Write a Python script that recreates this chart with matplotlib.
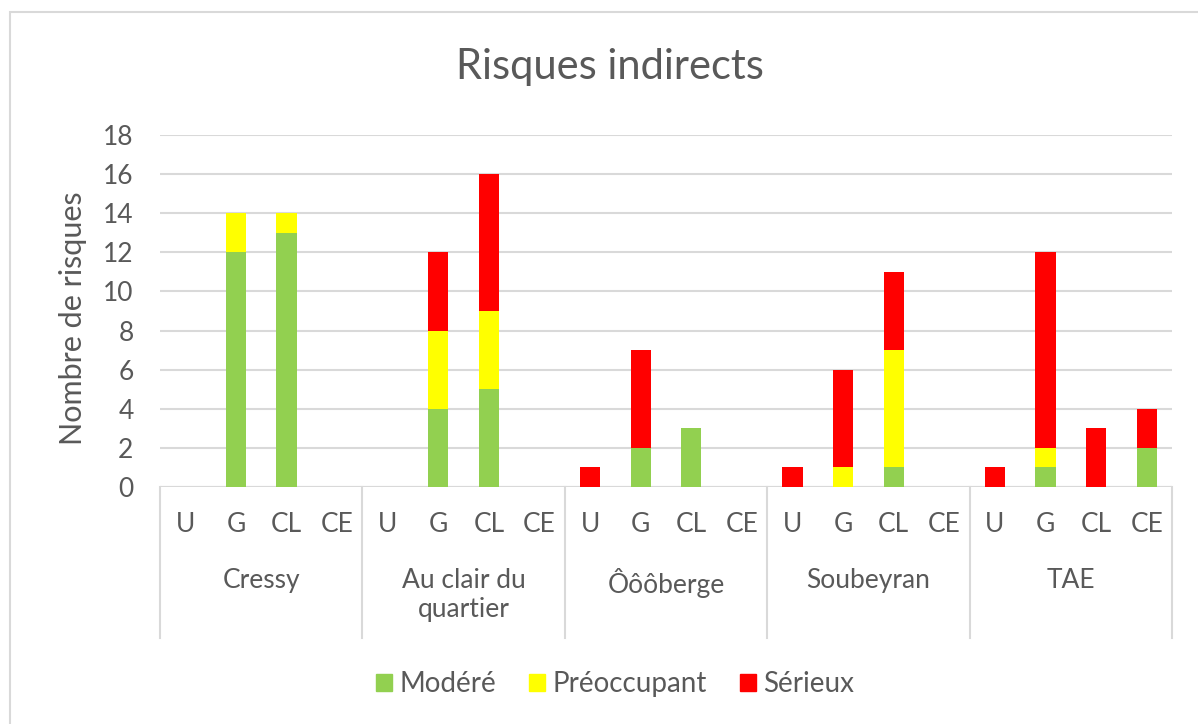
import numpy as np
import matplotlib.pyplot as plt
from matplotlib.patches import Rectangle
from matplotlib.lines import Line2D
import matplotlib.transforms as mtransforms

plt.rcParams['font.family'] = ['Lato', 'DejaVu Sans']

sites = ['Cressy', 'Au clair du\nquartier', 'Ôôôberge', 'Soubeyran', 'TAE']
sub_cats = ['U', 'G', 'CL', 'CE']

# one value per (site, sub category), in order U, G, CL, CE
modere = [0, 12, 13, 0,
          0, 4, 5, 0,
          0, 2, 3, 0,
          0, 0, 1, 0,
          0, 1, 0, 2]
preoccupant = [0, 2, 1, 0,
               0, 4, 4, 0,
               0, 0, 0, 0,
               0, 1, 6, 0,
               0, 1, 0, 0]
serieux = [0, 0, 0, 0,
           0, 4, 7, 0,
           1, 5, 0, 0,
           1, 5, 4, 0,
           1, 10, 3, 2]

yticks = np.arange(0, 19, 2)

GREEN = '#92D050'
YELLOW = '#FFFF00'
RED = '#FF0000'
TXT = '#595959'
GRID = '#D9D9D9'

W, H = 1198, 724
fig = plt.figure(figsize=(W / 100, H / 100), dpi=100)

# chart area border
fig.patches.append(Rectangle((10 / W, -0.1), 1.2, 1 - 12 / H + 0.1,
                             transform=fig.transFigure, fill=False,
                             ec=GRID, lw=1.5))

ax = fig.add_axes([160 / W, 1 - 487 / H, 1012 / W, 352 / H])

x = np.arange(len(modere))
m = np.array(modere)
p = np.array(preoccupant)
s = np.array(serieux)
bw = 0.4
ax.bar(x, m, bw, color=GREEN, zorder=3)
ax.bar(x, p, bw, bottom=m, color=YELLOW, zorder=3)
ax.bar(x, s, bw, bottom=m + p, color=RED, zorder=3)

ax.set_xlim(-0.5, len(x) - 0.5)
ax.set_ylim(0, 18)
ax.set_yticks(yticks)
ax.tick_params(axis='y', length=0, labelsize=19, labelcolor=TXT, pad=19)
ax.set_xticks([])
ax.grid(axis='y', color=GRID, lw=1.5, zorder=0)
for sp in ax.spines.values():
    sp.set_visible(False)
ax.axhline(0, color=GRID, lw=1.5, zorder=2)

fig.text(73 / W, 1 - 318 / H, 'Nombre de risques', rotation=90,
         ha='center', va='center', fontsize=22, color=TXT)

# two-level category axis
trans = mtransforms.blended_transform_factory(ax.transData, ax.transAxes)
for k in range(len(sites) + 1):
    ax.add_line(Line2D([4 * k - 0.5] * 2, [0, -151 / 352], transform=trans,
                       color=GRID, lw=1.5, clip_on=False))
for i, xi in enumerate(x):
    ax.text(xi, -38 / 352, sub_cats[i % 4], transform=trans, ha='center',
            va='center', fontsize=19, color=TXT)
for g, name in enumerate(sites):
    ax.text(4 * g + 1.5, -81 / 352, name, transform=trans, ha='center',
            va='top', fontsize=19, color=TXT, linespacing=1.2)

fig.text(610 / W, 1 - 67 / H, 'Risques indirects', ha='center', va='center',
         fontsize=30, color=TXT)

handles = [Rectangle((0, 0), 1, 1, color=c) for c in (GREEN, YELLOW, RED)]
fig.legend(handles, ['Modéré', 'Préoccupant', 'Sérieux'], loc='center',
           bbox_to_anchor=(615 / W, 1 - 684 / H), ncol=3, frameon=False,
           fontsize=20, labelcolor=TXT, handlelength=0.58, handleheight=0.58,
           handletextpad=0.25, columnspacing=1.2)

fig.savefig('out.png', dpi=100)
